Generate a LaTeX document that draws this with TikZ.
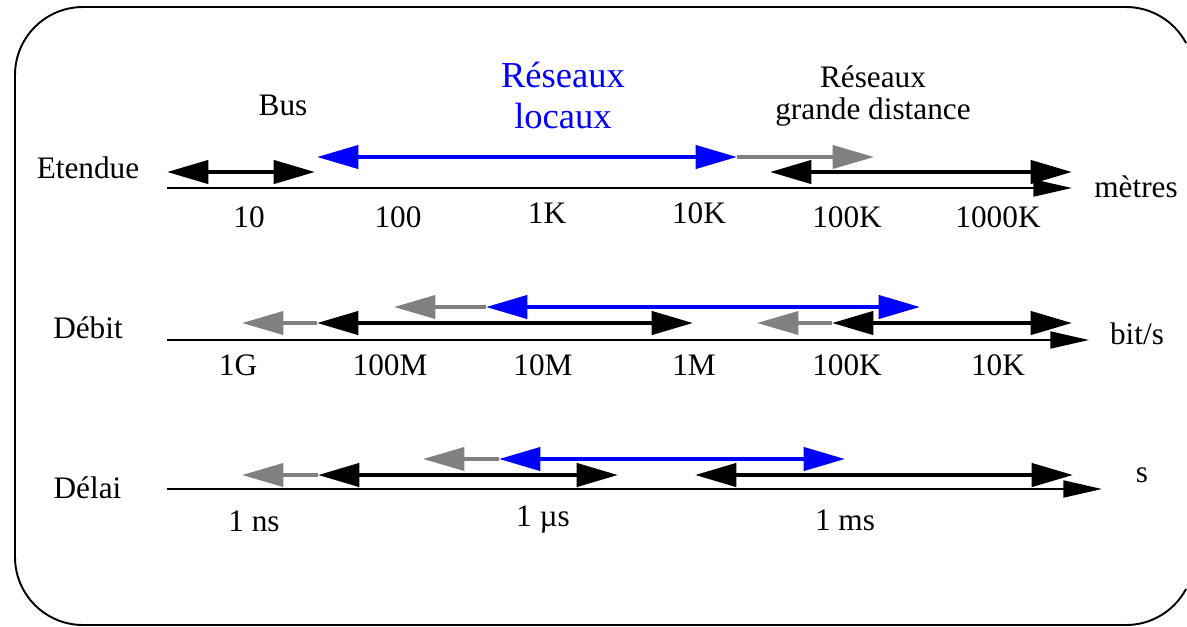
\documentclass[tikz,border=0pt]{standalone}
\usepackage{fontspec}
\setmainfont{Liberation Serif}
\usetikzlibrary{arrows.meta}
\pgfdeclarelayer{edgelayer}
\pgfdeclarelayer{nodelayer}
\pgfsetlayers{edgelayer,nodelayer,main}
\tikzset{font=\fontsize{17.8}{17.8}\selectfont}
\tikzset{bigtip/.tip={Triangle[length=23.5pt,width=13.1pt]}, axtip/.tip={Triangle[length=22pt,width=9.6pt]}}
\tikzstyle{none}=[inner sep=0pt]
\tikzstyle{txt}=[inner sep=0pt, anchor=base, align=center]
\tikzstyle{bluetxt}=[txt, text=blue, font=\fontsize{20.8}{23.3}\selectfont]
\tikzstyle{frame}=[draw=black, line width=1.1pt]
\tikzstyle{axe}=[draw=black, line width=1.3pt, -axtip]
\tikzstyle{blk}=[draw=black, line width=2.4pt, bigtip-bigtip]
\tikzstyle{blu}=[draw=blue, line width=2.3pt, bigtip-bigtip]
\tikzstyle{gry}=[draw=gray, line width=2pt, -bigtip]

\begin{document}
\begin{tikzpicture}
	\useasboundingbox (0,0) rectangle (23.74,-12.52);
	\draw [style=frame] (22.52, -1.50) ++(28:1.36) arc [start angle=28, end angle=90, radius=1.36]
		-- (1.66, -0.14) arc [start angle=90, end angle=180, radius=1.36]
		-- (0.30, -11.14) arc [start angle=180, end angle=270, radius=1.36]
		-- (22.52, -12.50) arc [start angle=270, end angle=332, radius=1.36];
	\begin{pgfonlayer}{nodelayer}
		\node [style=none] (0) at (3.34, -3.76) {};
		\node [style=none] (1) at (21.44, -3.76) {};
		\node [style=none] (2) at (3.34, -3.44) {};
		\node [style=none] (3) at (6.30, -3.44) {};
		\node [style=none] (4) at (6.34, -3.14) {};
		\node [style=none] (5) at (14.74, -3.14) {};
		\node [style=none] (6) at (17.48, -3.14) {};
		\node [style=none] (7) at (15.40, -3.44) {};
		\node [style=none] (8) at (21.44, -3.44) {};
		\node [style=none] (9) at (3.34, -6.80) {};
		\node [style=none] (10) at (21.78, -6.80) {};
		\node [style=none] (11) at (4.84, -6.46) {};
		\node [style=none] (12) at (6.34, -6.46) {};
		\node [style=none] (13) at (13.86, -6.46) {};
		\node [style=none] (14) at (7.88, -6.14) {};
		\node [style=none] (15) at (9.72, -6.14) {};
		\node [style=none] (16) at (18.40, -6.14) {};
		\node [style=none] (17) at (15.14, -6.46) {};
		\node [style=none] (18) at (16.64, -6.46) {};
		\node [style=none] (19) at (21.44, -6.46) {};
		\node [style=none] (20) at (3.34, -9.78) {};
		\node [style=none] (21) at (22.04, -9.78) {};
		\node [style=none] (22) at (4.84, -9.50) {};
		\node [style=none] (23) at (6.36, -9.50) {};
		\node [style=none] (24) at (12.36, -9.50) {};
		\node [style=none] (25) at (8.46, -9.18) {};
		\node [style=none] (26) at (9.98, -9.18) {};
		\node [style=none] (27) at (16.90, -9.18) {};
		\node [style=none] (28) at (13.90, -9.50) {};
		\node [style=none] (29) at (21.46, -9.50) {};
		\node [style=txt] (30) at (1.76, -3.56) {Etendue};
		\node [style=txt] (31) at (5.66, -2.30) {Bus};
		\node [style=bluetxt] (32) at (11.26, -2.56) {Réseaux\\locaux};
		\node [style=txt] (33) at (17.46, -2.38) {Réseaux\\grande distance};
		\node [style=txt] (34) at (22.72, -3.94) {mètres};
		\node [style=txt] (35) at (4.98, -4.54) {10};
		\node [style=txt] (36) at (7.96, -4.54) {100};
		\node [style=txt] (37) at (10.94, -4.46) {1K};
		\node [style=txt] (38) at (13.98, -4.46) {10K};
		\node [style=txt] (39) at (16.94, -4.54) {100K};
		\node [style=txt] (40) at (19.96, -4.54) {1000K};
		\node [style=txt] (41) at (1.76, -6.76) {Débit};
		\node [style=txt] (42) at (22.74, -6.88) {bit/s};
		\node [style=txt] (43) at (4.76, -7.50) {1G};
		\node [style=txt] (44) at (7.80, -7.50) {100M};
		\node [style=txt] (45) at (10.86, -7.50) {10M};
		\node [style=txt] (46) at (13.88, -7.50) {1M};
		\node [style=txt] (47) at (16.94, -7.50) {100K};
		\node [style=txt] (48) at (19.96, -7.50) {10K};
		\node [style=txt] (49) at (1.75, -9.96) {Délai};
		\node [style=txt] (50) at (22.84, -9.64) {s};
		\node [style=txt] (51) at (5.08, -10.62) {1 ns};
		\node [style=txt] (52) at (10.86, -10.52) {1 µs};
		\node [style=txt] (53) at (16.90, -10.60) {1 ms};
	\end{pgfonlayer}
	\begin{pgfonlayer}{edgelayer}
		\draw [style=axe] (0.center) to (1.center);
		\draw [style=axe] (9.center) to (10.center);
		\draw [style=axe] (20.center) to (21.center);
		\draw [style=gry] (5.center) to (6.center);
		\draw [style=gry] (12.center) to (11.center);
		\draw [style=gry] (15.center) to (14.center);
		\draw [style=gry] (18.center) to (17.center);
		\draw [style=gry] (23.center) to (22.center);
		\draw [style=gry] (26.center) to (25.center);
		\draw [style=blk] (2.center) to (3.center);
		\draw [style=blk] (7.center) to (8.center);
		\draw [style=blk] (12.center) to (13.center);
		\draw [style=blk] (18.center) to (19.center);
		\draw [style=blk] (23.center) to (24.center);
		\draw [style=blk] (28.center) to (29.center);
		\draw [style=blu] (4.center) to (5.center);
		\draw [style=blu] (15.center) to (16.center);
		\draw [style=blu] (26.center) to (27.center);
	\end{pgfonlayer}
\end{tikzpicture}
\end{document}
